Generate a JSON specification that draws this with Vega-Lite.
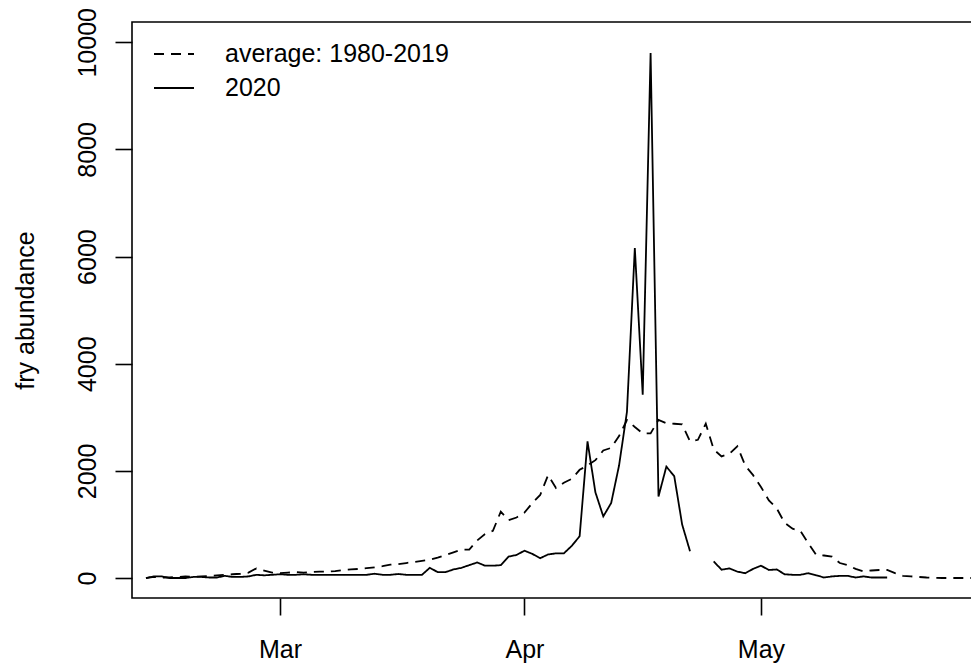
{
  "$schema": "https://vega.github.io/schema/vega-lite/v6.json",
  "autosize": {"type": "none"},
  "padding": {"left": 132, "top": 22, "right": 0, "bottom": 68},
  "width": 841,
  "height": 576,
  "background": "white",
  "config": {
    "font": "Liberation Sans",
    "view": {"stroke": "black", "strokeWidth": 1.6},
    "axis": {
      "domain": false, "grid": false,
      "tickColor": "black", "tickWidth": 1.6, "tickSize": 17,
      "labelColor": "black", "labelFontSize": 25, "labelFont": "Liberation Sans",
      "labelFlush": false, "labelOverlap": false,
      "titleColor": "black", "titleFontSize": 25, "titleFontWeight": "normal", "titleFont": "Liberation Sans"
    }
  },
  "data": {"values": [
    {"date":"2020-02-13","series":"average: 1980-2019","fish":0},
    {"date":"2020-02-14","series":"average: 1980-2019","fish":20},
    {"date":"2020-02-15","series":"average: 1980-2019","fish":10},
    {"date":"2020-02-16","series":"average: 1980-2019","fish":10},
    {"date":"2020-02-17","series":"average: 1980-2019","fish":20},
    {"date":"2020-02-18","series":"average: 1980-2019","fish":30},
    {"date":"2020-02-19","series":"average: 1980-2019","fish":20},
    {"date":"2020-02-20","series":"average: 1980-2019","fish":30},
    {"date":"2020-02-21","series":"average: 1980-2019","fish":40},
    {"date":"2020-02-22","series":"average: 1980-2019","fish":50},
    {"date":"2020-02-23","series":"average: 1980-2019","fish":60},
    {"date":"2020-02-24","series":"average: 1980-2019","fish":70},
    {"date":"2020-02-25","series":"average: 1980-2019","fish":80},
    {"date":"2020-02-26","series":"average: 1980-2019","fish":100},
    {"date":"2020-02-27","series":"average: 1980-2019","fish":180},
    {"date":"2020-02-28","series":"average: 1980-2019","fish":140},
    {"date":"2020-02-29","series":"average: 1980-2019","fish":100},
    {"date":"2020-03-01","series":"average: 1980-2019","fish":90},
    {"date":"2020-03-02","series":"average: 1980-2019","fish":100},
    {"date":"2020-03-03","series":"average: 1980-2019","fish":110},
    {"date":"2020-03-04","series":"average: 1980-2019","fish":100},
    {"date":"2020-03-05","series":"average: 1980-2019","fish":110},
    {"date":"2020-03-06","series":"average: 1980-2019","fish":120},
    {"date":"2020-03-07","series":"average: 1980-2019","fish":120},
    {"date":"2020-03-08","series":"average: 1980-2019","fish":130},
    {"date":"2020-03-09","series":"average: 1980-2019","fish":150},
    {"date":"2020-03-10","series":"average: 1980-2019","fish":160},
    {"date":"2020-03-11","series":"average: 1980-2019","fish":170},
    {"date":"2020-03-12","series":"average: 1980-2019","fish":186},
    {"date":"2020-03-13","series":"average: 1980-2019","fish":200},
    {"date":"2020-03-14","series":"average: 1980-2019","fish":220},
    {"date":"2020-03-15","series":"average: 1980-2019","fish":250},
    {"date":"2020-03-16","series":"average: 1980-2019","fish":260},
    {"date":"2020-03-17","series":"average: 1980-2019","fish":280},
    {"date":"2020-03-18","series":"average: 1980-2019","fish":300},
    {"date":"2020-03-19","series":"average: 1980-2019","fish":320},
    {"date":"2020-03-20","series":"average: 1980-2019","fish":340},
    {"date":"2020-03-21","series":"average: 1980-2019","fish":380},
    {"date":"2020-03-22","series":"average: 1980-2019","fish":430},
    {"date":"2020-03-23","series":"average: 1980-2019","fish":480},
    {"date":"2020-03-24","series":"average: 1980-2019","fish":530},
    {"date":"2020-03-25","series":"average: 1980-2019","fish":530},
    {"date":"2020-03-26","series":"average: 1980-2019","fish":700},
    {"date":"2020-03-27","series":"average: 1980-2019","fish":820},
    {"date":"2020-03-28","series":"average: 1980-2019","fish":880},
    {"date":"2020-03-29","series":"average: 1980-2019","fish":1240},
    {"date":"2020-03-30","series":"average: 1980-2019","fish":1080},
    {"date":"2020-03-31","series":"average: 1980-2019","fish":1130},
    {"date":"2020-04-01","series":"average: 1980-2019","fish":1220},
    {"date":"2020-04-02","series":"average: 1980-2019","fish":1400},
    {"date":"2020-04-03","series":"average: 1980-2019","fish":1550},
    {"date":"2020-04-04","series":"average: 1980-2019","fish":1920},
    {"date":"2020-04-05","series":"average: 1980-2019","fish":1680},
    {"date":"2020-04-06","series":"average: 1980-2019","fish":1780},
    {"date":"2020-04-07","series":"average: 1980-2019","fish":1850},
    {"date":"2020-04-08","series":"average: 1980-2019","fish":2020},
    {"date":"2020-04-09","series":"average: 1980-2019","fish":2100},
    {"date":"2020-04-10","series":"average: 1980-2019","fish":2200},
    {"date":"2020-04-11","series":"average: 1980-2019","fish":2380},
    {"date":"2020-04-12","series":"average: 1980-2019","fish":2430},
    {"date":"2020-04-13","series":"average: 1980-2019","fish":2650},
    {"date":"2020-04-14","series":"average: 1980-2019","fish":2950},
    {"date":"2020-04-15","series":"average: 1980-2019","fish":2820},
    {"date":"2020-04-16","series":"average: 1980-2019","fish":2700},
    {"date":"2020-04-17","series":"average: 1980-2019","fish":2700},
    {"date":"2020-04-18","series":"average: 1980-2019","fish":2950},
    {"date":"2020-04-19","series":"average: 1980-2019","fish":2890},
    {"date":"2020-04-20","series":"average: 1980-2019","fish":2880},
    {"date":"2020-04-21","series":"average: 1980-2019","fish":2870},
    {"date":"2020-04-22","series":"average: 1980-2019","fish":2550},
    {"date":"2020-04-23","series":"average: 1980-2019","fish":2580},
    {"date":"2020-04-24","series":"average: 1980-2019","fish":2880},
    {"date":"2020-04-25","series":"average: 1980-2019","fish":2400},
    {"date":"2020-04-26","series":"average: 1980-2019","fish":2270},
    {"date":"2020-04-27","series":"average: 1980-2019","fish":2320},
    {"date":"2020-04-28","series":"average: 1980-2019","fish":2460},
    {"date":"2020-04-29","series":"average: 1980-2019","fish":2100},
    {"date":"2020-04-30","series":"average: 1980-2019","fish":1920},
    {"date":"2020-05-01","series":"average: 1980-2019","fish":1700},
    {"date":"2020-05-02","series":"average: 1980-2019","fish":1450},
    {"date":"2020-05-03","series":"average: 1980-2019","fish":1300},
    {"date":"2020-05-04","series":"average: 1980-2019","fish":1030},
    {"date":"2020-05-05","series":"average: 1980-2019","fish":920},
    {"date":"2020-05-06","series":"average: 1980-2019","fish":880},
    {"date":"2020-05-07","series":"average: 1980-2019","fish":650},
    {"date":"2020-05-08","series":"average: 1980-2019","fish":430},
    {"date":"2020-05-09","series":"average: 1980-2019","fish":420},
    {"date":"2020-05-10","series":"average: 1980-2019","fish":400},
    {"date":"2020-05-11","series":"average: 1980-2019","fish":280},
    {"date":"2020-05-12","series":"average: 1980-2019","fish":240},
    {"date":"2020-05-13","series":"average: 1980-2019","fish":170},
    {"date":"2020-05-14","series":"average: 1980-2019","fish":125},
    {"date":"2020-05-15","series":"average: 1980-2019","fish":140},
    {"date":"2020-05-16","series":"average: 1980-2019","fish":150},
    {"date":"2020-05-17","series":"average: 1980-2019","fish":150},
    {"date":"2020-05-18","series":"average: 1980-2019","fish":90},
    {"date":"2020-05-19","series":"average: 1980-2019","fish":40},
    {"date":"2020-05-20","series":"average: 1980-2019","fish":30},
    {"date":"2020-05-21","series":"average: 1980-2019","fish":20},
    {"date":"2020-05-22","series":"average: 1980-2019","fish":10},
    {"date":"2020-05-23","series":"average: 1980-2019","fish":5},
    {"date":"2020-05-24","series":"average: 1980-2019","fish":0},
    {"date":"2020-05-25","series":"average: 1980-2019","fish":0},
    {"date":"2020-05-26","series":"average: 1980-2019","fish":0},
    {"date":"2020-05-27","series":"average: 1980-2019","fish":0},
    {"date":"2020-05-28","series":"average: 1980-2019","fish":0},
    {"date":"2020-05-29","series":"average: 1980-2019","fish":0},
    {"date":"2020-05-30","series":"average: 1980-2019","fish":0},
    {"date":"2020-05-31","series":"average: 1980-2019","fish":0},
    {"date":"2020-02-13","series":"2020","fish":0},
    {"date":"2020-02-14","series":"2020","fish":30},
    {"date":"2020-02-15","series":"2020","fish":30},
    {"date":"2020-02-16","series":"2020","fish":0},
    {"date":"2020-02-17","series":"2020","fish":0},
    {"date":"2020-02-18","series":"2020","fish":0},
    {"date":"2020-02-19","series":"2020","fish":20},
    {"date":"2020-02-20","series":"2020","fish":20},
    {"date":"2020-02-21","series":"2020","fish":10},
    {"date":"2020-02-22","series":"2020","fish":10},
    {"date":"2020-02-23","series":"2020","fish":40},
    {"date":"2020-02-24","series":"2020","fish":20},
    {"date":"2020-02-25","series":"2020","fish":20},
    {"date":"2020-02-26","series":"2020","fish":30},
    {"date":"2020-02-27","series":"2020","fish":60},
    {"date":"2020-02-28","series":"2020","fish":50},
    {"date":"2020-02-29","series":"2020","fish":60},
    {"date":"2020-03-01","series":"2020","fish":70},
    {"date":"2020-03-02","series":"2020","fish":60},
    {"date":"2020-03-03","series":"2020","fish":60},
    {"date":"2020-03-04","series":"2020","fish":70},
    {"date":"2020-03-05","series":"2020","fish":60},
    {"date":"2020-03-06","series":"2020","fish":60},
    {"date":"2020-03-07","series":"2020","fish":60},
    {"date":"2020-03-08","series":"2020","fish":60},
    {"date":"2020-03-09","series":"2020","fish":60},
    {"date":"2020-03-10","series":"2020","fish":60},
    {"date":"2020-03-11","series":"2020","fish":60},
    {"date":"2020-03-12","series":"2020","fish":60},
    {"date":"2020-03-13","series":"2020","fish":80},
    {"date":"2020-03-14","series":"2020","fish":60},
    {"date":"2020-03-15","series":"2020","fish":60},
    {"date":"2020-03-16","series":"2020","fish":75},
    {"date":"2020-03-17","series":"2020","fish":60},
    {"date":"2020-03-18","series":"2020","fish":60},
    {"date":"2020-03-19","series":"2020","fish":60},
    {"date":"2020-03-20","series":"2020","fish":190},
    {"date":"2020-03-21","series":"2020","fish":110},
    {"date":"2020-03-22","series":"2020","fish":110},
    {"date":"2020-03-23","series":"2020","fish":160},
    {"date":"2020-03-24","series":"2020","fish":190},
    {"date":"2020-03-25","series":"2020","fish":240},
    {"date":"2020-03-26","series":"2020","fish":290},
    {"date":"2020-03-27","series":"2020","fish":230},
    {"date":"2020-03-28","series":"2020","fish":230},
    {"date":"2020-03-29","series":"2020","fish":240},
    {"date":"2020-03-30","series":"2020","fish":400},
    {"date":"2020-03-31","series":"2020","fish":430},
    {"date":"2020-04-01","series":"2020","fish":510},
    {"date":"2020-04-02","series":"2020","fish":450},
    {"date":"2020-04-03","series":"2020","fish":370},
    {"date":"2020-04-04","series":"2020","fish":440},
    {"date":"2020-04-05","series":"2020","fish":460},
    {"date":"2020-04-06","series":"2020","fish":460},
    {"date":"2020-04-07","series":"2020","fish":600},
    {"date":"2020-04-08","series":"2020","fish":780},
    {"date":"2020-04-09","series":"2020","fish":2550},
    {"date":"2020-04-10","series":"2020","fish":1600},
    {"date":"2020-04-11","series":"2020","fish":1150},
    {"date":"2020-04-12","series":"2020","fish":1400},
    {"date":"2020-04-13","series":"2020","fish":2100},
    {"date":"2020-04-14","series":"2020","fish":3100},
    {"date":"2020-04-15","series":"2020","fish":6160},
    {"date":"2020-04-16","series":"2020","fish":3420},
    {"date":"2020-04-17","series":"2020","fish":9800},
    {"date":"2020-04-18","series":"2020","fish":1520},
    {"date":"2020-04-19","series":"2020","fish":2080},
    {"date":"2020-04-20","series":"2020","fish":1900},
    {"date":"2020-04-21","series":"2020","fish":1000},
    {"date":"2020-04-22","series":"2020","fish":500},
    {"date":"2020-04-23","series":"2020","fish":null},
    {"date":"2020-04-24","series":"2020","fish":null},
    {"date":"2020-04-25","series":"2020","fish":310},
    {"date":"2020-04-26","series":"2020","fish":155},
    {"date":"2020-04-27","series":"2020","fish":180},
    {"date":"2020-04-28","series":"2020","fish":120},
    {"date":"2020-04-29","series":"2020","fish":90},
    {"date":"2020-04-30","series":"2020","fish":170},
    {"date":"2020-05-01","series":"2020","fish":230},
    {"date":"2020-05-02","series":"2020","fish":150},
    {"date":"2020-05-03","series":"2020","fish":160},
    {"date":"2020-05-04","series":"2020","fish":70},
    {"date":"2020-05-05","series":"2020","fish":60},
    {"date":"2020-05-06","series":"2020","fish":60},
    {"date":"2020-05-07","series":"2020","fish":90},
    {"date":"2020-05-08","series":"2020","fish":50},
    {"date":"2020-05-09","series":"2020","fish":10},
    {"date":"2020-05-10","series":"2020","fish":30},
    {"date":"2020-05-11","series":"2020","fish":40},
    {"date":"2020-05-12","series":"2020","fish":40},
    {"date":"2020-05-13","series":"2020","fish":10},
    {"date":"2020-05-14","series":"2020","fish":30},
    {"date":"2020-05-15","series":"2020","fish":10},
    {"date":"2020-05-16","series":"2020","fish":10},
    {"date":"2020-05-17","series":"2020","fish":10}
  ]},
  "mark": {"type": "line", "clip": true, "color": "black", "strokeWidth": 1.8, "invalid": "break-paths-show-domains"},
  "encoding": {
    "x": {
      "field": "date", "type": "temporal",
      "scale": {"type": "utc", "domain": [
        {"year": 2020, "month": 2, "date": 11, "hours": 5, "minutes": 30, "utc": true},
        {"year": 2020, "month": 5, "date": 27, "hours": 21, "minutes": 20, "utc": true}
      ]},
      "axis": {
        "title": null, "format": "%b",
        "values": [
          {"year": 2020, "month": 3, "date": 1, "utc": true},
          {"year": 2020, "month": 4, "date": 1, "utc": true},
          {"year": 2020, "month": 5, "date": 1, "utc": true}
        ],
        "labelBaseline": "alphabetic", "labelPadding": 42, "labelAlign": "center"
      }
    },
    "y": {
      "field": "fish", "type": "quantitative",
      "scale": {"domain": [-373, 10379], "nice": false, "zero": false},
      "axis": {
        "title": "fry abundance", "values": [0, 2000, 4000, 6000, 8000, 10000], "format": "d",
        "labelAngle": 270, "labelAlign": "center", "labelBaseline": "alphabetic", "labelPadding": 20,
        "titleAngle": 270, "titleX": -107, "titleY": 288, "titleBaseline": "middle", "titleAlign": "center"
      }
    },
    "strokeDash": {
      "field": "series", "type": "nominal",
      "scale": {"domain": ["average: 1980-2019", "2020"], "range": [[10, 7], [1, 0]]},
      "legend": {
        "title": null, "orient": "none", "legendX": 21, "legendY": 11, "padding": 0,
        "symbolType": "stroke", "symbolSize": 1600, "symbolStrokeWidth": 1.8, "symbolStrokeColor": "black",
        "labelFontSize": 25, "labelColor": "black", "labelOffset": 30, "rowPadding": 0, "labelLimit": 0, "labelFont": "Liberation Sans"
      }
    }
  }
}
